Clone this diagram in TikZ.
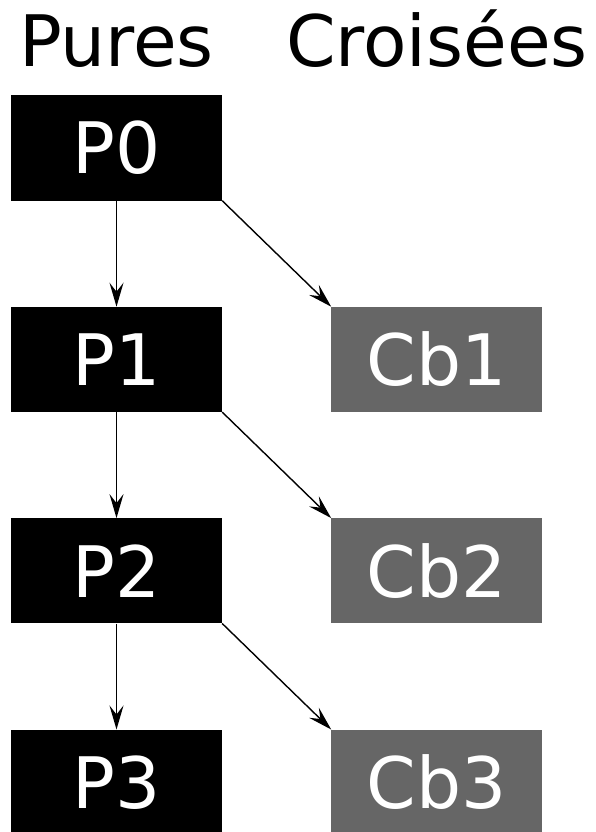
\documentclass[tikz,border=0pt]{standalone}
\usepackage{fontspec}
\setmainfont{DejaVu Sans}
\usetikzlibrary{positioning,arrows.meta}
\definecolor{croisegray}{HTML}{666666}

\begin{document}
\begin{tikzpicture}
\tikzset{
    every node/.style = {rectangle, inner sep=0pt, font=\fontsize{71pt}{80pt}\selectfont},
    pure/.style = {fill=black, text=white, minimum width=211pt, minimum height=105pt},
    croisee/.style = {fill=croisegray, text=white, minimum width=211pt, minimum height=105pt},
    title/.style = {anchor=base, text=black},
    link/.style = {draw, line width=1.4pt, -{Stealth[length=24pt, width=14pt, inset=9pt]}},
    node distance = 106pt and 109pt
}
\useasboundingbox (0pt,0pt) rectangle (596pt,-832pt);

% -------------------------------------------------------
\node[pure] (P0) at (116.5pt,-148pt) {P0};
\node[pure, below=of P0] (P1) {P1};
\node[pure, below=of P1] (P2) {P2};
\node[pure, below=of P2] (P3) {P3};

\node[croisee, right=of P1] (Cb1) {Cb1};
\node[croisee, right=of P2] (Cb2) {Cb2};
\node[croisee, right=of P3] (Cb3) {Cb3};

\node[title] (pures) at ([yshift=29pt]P0.north) {Pures};
\node[title] (croisees) at (pures.base -| Cb1) {Croisées};

% -------------------------------------------------------
\path[link] (P0) -- (P1);
\path[link] (P1) -- (P2);
\path[link] (P2) -- (P3);

\path[link] (P0.south east) -- (Cb1.north west);
\path[link] (P1.south east) -- (Cb2.north west);
\path[link] (P2.south east) -- (Cb3.north west);
\end{tikzpicture}
\end{document}
